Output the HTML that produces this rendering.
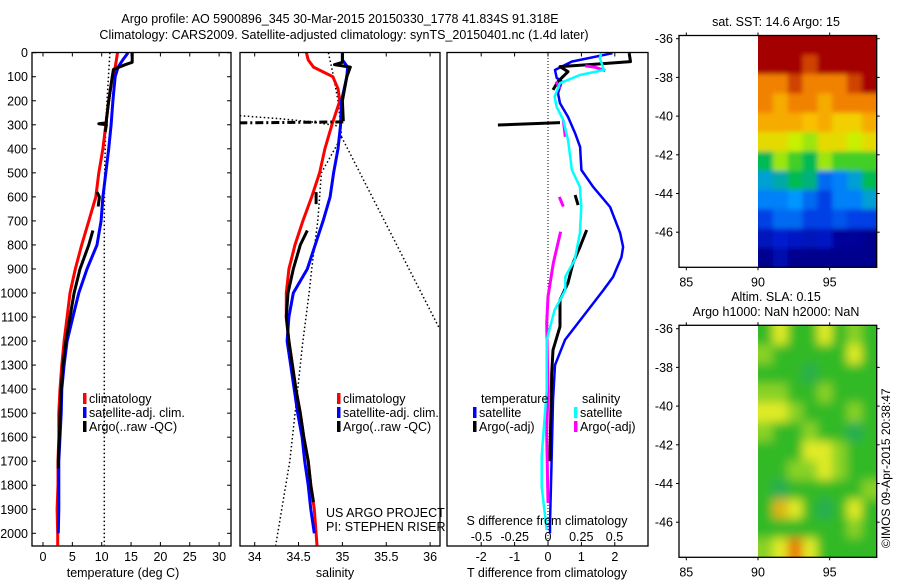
<!DOCTYPE html>
<html><head><meta charset="utf-8"><style>
html,body{margin:0;padding:0;background:#fff;}
svg{display:block;font-family:"Liberation Sans",sans-serif;}
text{fill:#000;font-size:12.5px;}
</style></head><body>
<svg id="c" xmlns="http://www.w3.org/2000/svg" width="900" height="580" viewBox="0 0 900 580">
<defs>
<clipPath id="cp1"><rect x="32" y="52" width="199" height="494"/></clipPath>
<clipPath id="cp2"><rect x="240" y="52" width="200" height="494"/></clipPath>
<clipPath id="cp3"><rect x="447" y="52" width="201" height="494"/></clipPath>
<clipPath id="cpm1"><rect x="758" y="35.5" width="118.7" height="231.8"/></clipPath>
<clipPath id="cpm2"><rect x="758" y="325.3" width="118.7" height="232"/></clipPath>
<filter id="blur" x="-5%" y="-5%" width="110%" height="110%"><feGaussianBlur stdDeviation="5"/></filter>
<filter id="blur2"><feGaussianBlur stdDeviation="2.5"/></filter>
</defs>
<text x="340" y="23" text-anchor="middle">Argo profile: AO 5900896_345 30-Mar-2015 20150330_1778 41.834S 91.318E</text>
<text x="344" y="39" text-anchor="middle">Climatology: CARS2009. Satellite-adjusted climatology: synTS_20150401.nc (1.4d later)</text>
<g id="g1"></g>
<g id="g2"></g>
<g id="g3"></g>
<g id="gm1"></g>
<g id="gm2"></g>
<text transform="translate(890,548) rotate(-90)" style="font-size:12px">©IMOS 09-Apr-2015 20:38:47</text>
</svg>
<script>
// ---- data ----
const depthTicks = [0,100,200,300,400,500,600,700,800,900,1000,1100,1200,1300,1400,1500,1600,1700,1800,1900,2000];
const tTicks = [0,5,10,15,20,25,30];
const sTicks = [34,34.5,35,35.5,36];
const sTickLabels = ["34","34.5","35","35.5","36"];
const tdTicks = [-2,-1,0,1,2];
const sdTicks = [-0.5,-0.25,0,0.25,0.5];
const sdTickLabels = ["-0.5","-0.25","0","0.25","0.5"];
const climDepth = [0,30,60,100,150,200,300,400,500,600,700,800,900,1000,1100,1200,1300,1400,1500,1600,1700,1800,1900,2000,2050];
const tClim = [12.7,12.5,12.3,11.8,11.5,11.2,10.7,10.2,9.5,9.0,7.8,6.6,5.5,4.6,4.1,3.6,3.2,2.9,2.7,2.7,2.55,2.55,2.4,2.5,2.5];
const tSat = [14.5,13.6,12.8,12.3,12.1,11.9,11.6,11.2,10.7,10.2,9.9,9.2,7.5,6.1,5.1,4.1,3.6,3.2,3.1,2.9,2.7,2.7,2.7,2.6,null];
const sClim = [34.59,34.61,34.67,34.89,34.95,34.97,34.88,34.80,34.74,34.65,34.55,34.46,34.39,34.36,34.36,34.39,34.43,34.47,34.52,34.56,34.61,34.64,34.68,34.70,34.71];
const sSat = [35.0,35.0,35.06,35.05,35.02,34.99,34.98,34.95,34.90,34.86,34.78,34.69,34.60,34.44,34.39,34.37,34.41,34.45,34.49,34.54,34.57,34.61,34.64,34.68,null];
const argoTDepth = [0,40,50,70,100,200,280,292,296,300,330,400,580,600,640,700,740,800,900,1000,1100,1200,1300,1400,1500,1600,1700,1730];
const argoT = [15.2,15.2,14.0,12.0,11.8,11.2,10.8,10.8,9.5,10.8,10.6,null,9.2,9.6,9.4,null,8.5,7.8,6.3,5.3,4.6,3.9,3.4,3.1,2.9,2.8,2.6,2.6];
const argoSDepth = [0,40,50,60,100,200,285,400,580,630,700,740,800,900,1000,1100,1200,1300,1400,1500,1600,1700,1800,1870];
const argoS = [35.0,35.0,34.91,35.09,35.05,35.0,35.01,null,34.70,34.70,null,34.60,34.52,34.44,34.38,34.36,34.39,34.43,34.47,34.52,34.56,34.61,34.64,34.67];
const argoSSpikeDepth = [288,290,292];
const argoSSpike = [35.01,34.4,33.8];
const tRefDepth = [0,200,300,500,700,2050];
const tRef = [11.4,10.9,10.7,10.5,10.45,10.45];
const sRefDepth = [0,100,200,300,350];
const sRef = [34.84,34.9,34.95,34.98,34.99];
const sRefRightDepth = [350,1150];
const sRefRight = [34.99,36.11];
const sRefLeftDepth = [350,500,700,900,1000,1200,1400,1700,2050];
const sRefLeft = [34.99,34.76,34.72,34.65,34.62,34.55,34.49,34.40,34.24];
const sRefTopDepth = [262,275,290,305];
const sRefTop = [33.83,34.3,34.7,34.95];
const tdSatDepth = [2,37,72,105,120,168,210,267,335,392,488,558,642,750,808,850,933,988,1195,1300,1446,1679,1957,2000];
const tdSat = [1.93,0.71,0.21,0.26,0.41,0.30,0.36,0.60,0.81,0.96,1.0,1.35,1.86,2.16,2.25,2.2,1.95,1.66,0.51,0.21,0.15,0.11,0.06,0.06];
const sdSatDepth = [2,23,72,93,127,183,225,280,363,488,558,641,752,863,932,988,1071,1195,1403,1680,1806,1986];
const sdSat = [0.40,0.39,0.42,0.24,0.09,0.05,0.065,0.115,0.15,0.18,0.24,0.25,0.24,0.2,0.13,0.13,0.05,-0.01,-0.01,-0.047,-0.047,-0.01];
const tdArgoDepth = [2,37,47,58,79,120,155,200,291,301,400,592,634,700,738,807,875,958,1029,1140,1237,1333,1679,1700];
const tdArgo = [2.43,2.47,1.5,0.36,0.6,0.3,0.15,null,0.36,-1.5,null,0.81,0.9,null,1.16,0.96,0.75,0.6,0.36,0.36,0.15,0.11,0.06,0.06];
const sdArgoDepth = [55,60,75,100,120,150,250,280,350,400,600,640,700,745,876,1015,1126,1403,1583,1874];
const sdArgo = [0.28,0.35,0.43,null,0.06,0.09,null,0.115,0.13,null,0.085,0.115,null,0.095,0.04,0.0,-0.01,0.0,-0.01,0.0];
const sstGrid = [
[6,6,6,6,6,6,6,6],[6,6,6,5.5,6,6,6,6],[5,5,5.5,5,5,5,5.5,6],[5,4.6,5,5,4.6,5,5,5],
[4.6,4.6,4.6,4.4,4.6,4.2,4.2,4.6],[4,4,3.6,3.4,4,4,3.6,4],[2.6,3.4,3,2.6,3.4,3,3,3],
[2,2.2,2.6,2.4,1.4,1.6,2,2.6],[1.6,1.6,1.8,1.4,1,1.6,1.6,2],[1,1.4,1.4,1,1,1.2,1,1],
[0.4,0.6,0.5,0.4,0.5,0.1,0.1,0],[0,0.3,0,0,0,0,0,0]];
const slaGrid = [
[1,2,1,1,2,1,1.5,1],[1.5,1,1,1,1,1,2,1],[1,1,1,0.6,1,1,1,1],[1.5,1.5,1,1,1.5,1,1,1],
[2,2,1.5,1,1,1,1.5,1],[1.5,1,1,1.5,1,1,0.5,1],[1,1,1,2,2,1.5,1,1],[1,1,1.5,1.5,2,1.5,1,1],
[1,0.5,1,1,1,1,1,1.5],[1,2.5,2,1,0.5,1,2,1],[1,1,1,1,1,1,1.5,1],[1.5,2,3,2,1,1,1,1]];
const lonTicks = [85,90,95];
const latTicks = [-36,-38,-40,-42,-44,-46];

// ---- axes ----
const yD = d => 52.7 + d*0.2403;
const xT = t => 43 + t*5.87;
const xS = s => 254.7 + (s-34)*87.7;
const xTd = t => 548 + t*33.4;
const xSd = s => 548 + s*133;
const xLon = l => 758 + (l-90)*14.34;
const yLat1 = l => 38.7 + (-36-l)*19.35;
const yLat2 = l => 328.7 + (-36-l)*19.35;

const NS="http://www.w3.org/2000/svg";
function mk(tag, parent, attrs){const e=document.createElementNS(NS,tag);for(const k in attrs)e.setAttribute(k,attrs[k]);parent.appendChild(e);return e;}
function txt(parent,x,y,s,anchor){const e=mk('text',parent,{x:x,y:y,'text-anchor':anchor||'start'});e.textContent=s;return e;}
function series(parent, depths, vals, xf, color, w, dash, name){
  let segs=[],cur=[];
  for(let i=0;i<depths.length;i++){
    if(vals[i]===null||vals[i]===undefined){if(cur.length)segs.push(cur);cur=[];continue;}
    cur.push(xf(vals[i]).toFixed(1)+','+yD(depths[i]).toFixed(1));
  }
  if(cur.length)segs.push(cur);
  segs.forEach(s=>{
    const p=mk('polyline',parent,{points:s.join(' '),fill:'none',stroke:color,'stroke-width':w,'stroke-linejoin':'round'});
    if(dash)p.setAttribute('stroke-dasharray',dash);
    
    
  });
}
function frame(parent,x0,x1,name){
  const r=mk('rect',parent,{x:x0,y:52.5,width:x1-x0,height:546-52.5,fill:'none',stroke:'#000','stroke-width':1.3});
  
  
}
function legendItem(parent,x,y,color,label,name){
  mk('rect',parent,{x:x,y:y-10,width:3.5,height:11,fill:color});
  const t=txt(parent,x+6,y,label);
  
  
}

// ---- panel 1 ----
const g1=document.getElementById('g1');
const c1=mk('g',g1,{'clip-path':'url(#cp1)'});
series(c1,tRefDepth,tRef,xT,'#000',1.5,'1.5 2.5','temperature-reference-dotted');
series(c1,climDepth,tClim,xT,'#f00',3,null,'temperature-climatology-line');
series(c1,climDepth,tSat,xT,'#00f',3,null,'temperature-satellite-line');
series(c1,argoTDepth,argoT,xT,'#000',3,null,'temperature-argo-line');
frame(g1,32,231,'temperature-axes-frame');
depthTicks.forEach(d=>{
  mk('line',g1,{x1:32,x2:36,y1:yD(d),y2:yD(d),stroke:'#000'});
  mk('line',g1,{x1:227,x2:231,y1:yD(d),y2:yD(d),stroke:'#000'});
  const t=txt(g1,28,yD(d)+4.5,String(d),'end');
  
  
});
tTicks.forEach(v=>{
  mk('line',g1,{x1:xT(v),x2:xT(v),y1:52.5,y2:56.5,stroke:'#000'});
  mk('line',g1,{x1:xT(v),x2:xT(v),y1:542,y2:546,stroke:'#000'});
  const t=txt(g1,xT(v),561,String(v),'middle');
  
  
});
txt(g1,123,577,'temperature (deg C)','middle');
legendItem(g1,83,403,'#f00','climatology','legend-climatology');
legendItem(g1,83,417,'#00f','satellite-adj. clim.','legend-satellite-adj');
legendItem(g1,83,431,'#000','Argo(..raw -QC)','legend-argo');

// ---- panel 2 ----
const g2=document.getElementById('g2');
const c2=mk('g',g2,{'clip-path':'url(#cp2)'});
series(c2,sRefDepth,sRef,xS,'#000',1.5,'1.5 2.5','salinity-reference-dotted');
series(c2,sRefRightDepth,sRefRight,xS,'#000',1.5,'1.5 2.5','salinity-reference-right-dotted');
series(c2,sRefLeftDepth,sRefLeft,xS,'#000',1.5,'1.5 2.5','salinity-reference-left-dotted');
series(c2,sRefTopDepth,sRefTop,xS,'#000',1.5,'1.5 2.5','salinity-reference-top-dotted');
series(c2,climDepth,sClim,xS,'#f00',3,null,'salinity-climatology-line');
series(c2,climDepth,sSat,xS,'#00f',3,null,'salinity-satellite-line');
series(c2,argoSDepth,argoS,xS,'#000',3,null,'salinity-argo-line');
series(c2,argoSSpikeDepth,argoSSpike,xS,'#000',3,'8 3 2 3','salinity-argo-spike');
frame(g2,240,440,'salinity-axes-frame');
sTicks.forEach((v,i)=>{
  mk('line',g2,{x1:xS(v),x2:xS(v),y1:52.5,y2:56.5,stroke:'#000'});
  mk('line',g2,{x1:xS(v),x2:xS(v),y1:542,y2:546,stroke:'#000'});
  const t=txt(g2,xS(v),561,sTickLabels[i],'middle');
  
  
});
txt(g2,335,577,'salinity','middle');
legendItem(g2,337,403,'#f00','climatology','legend-climatology');
legendItem(g2,337,417,'#00f','satellite-adj. clim.','legend-satellite-adj');
legendItem(g2,337,431,'#000','Argo(..raw -QC)','legend-argo');
txt(g2,326,517,'US ARGO PROJECT');
txt(g2,326,531,'PI: STEPHEN RISER');

// ---- panel 3 ----
const g3=document.getElementById('g3');
const c3=mk('g',g3,{'clip-path':'url(#cp3)'});
mk('line',c3,{x1:xTd(0),x2:xTd(0),y1:52,y2:546,stroke:'#000','stroke-width':1,'stroke-dasharray':'1 2'});
series(c3,tdSatDepth,tdSat,xTd,'#00f',2.5,null,'t-diff-satellite-line');
series(c3,tdArgoDepth,tdArgo,xTd,'#000',3,null,'t-diff-argo-line');
series(c3,sdArgoDepth,sdArgo,xSd,'#f0f',3,null,'s-diff-argo-line');
series(c3,sdSatDepth,sdSat,xSd,'#0ff',2.5,null,'s-diff-satellite-line');
frame(g3,447,648,'difference-axes-frame');
tdTicks.forEach(v=>{
  mk('line',g3,{x1:xTd(v),x2:xTd(v),y1:52.5,y2:56.5,stroke:'#000'});
  mk('line',g3,{x1:xTd(v),x2:xTd(v),y1:542,y2:546,stroke:'#000'});
  const t=txt(g3,xTd(v),561,String(v),'middle');
  
  
});
sdTicks.forEach((v,i)=>{
  const t=txt(g3,xSd(v),541,sdTickLabels[i],'middle');
  
  
});
txt(g3,547,525,'S difference from climatology','middle');
txt(g3,547,577,'T difference from climatology','middle');
txt(g3,481,403,'temperature');
txt(g3,582,403,'salinity');
legendItem(g3,473,417,'#00f','satellite','legend-t-satellite');
legendItem(g3,473,431,'#000','Argo(-adj)','legend-t-argo');
legendItem(g3,574,417,'#0ff','satellite','legend-s-satellite');
legendItem(g3,574,431,'#f0f','Argo(-adj)','legend-s-argo');

// ---- maps ----
function jet(v){ // v in 0..1
  const stops=[[0,[0,0,143]],[0.12,[0,32,220]],[0.3,[0,150,255]],[0.45,[0,190,60]],[0.6,[200,240,0]],[0.72,[250,200,0]],[0.85,[240,120,0]],[1,[165,0,0]]];
  for(let i=1;i<stops.length;i++){if(v<=stops[i][0]){const a=stops[i-1],b=stops[i],f=(v-a[0])/(b[0]-a[0]);return 'rgb('+a[1].map((c,k)=>Math.round(c+(b[1][k]-c)*f)).join(',')+')';}}
  return 'rgb(165,0,0)';
}
function slaCol(v){
  const stops=[[0,[30,160,130]],[1,[50,185,40]],[2,[225,235,40]],[3,[230,120,0]]];
  for(let i=1;i<stops.length;i++){if(v<=stops[i][0]){const a=stops[i-1],b=stops[i],f=(v-a[0])/(b[0]-a[0]);return 'rgb('+a[1].map((c,k)=>Math.round(c+(b[1][k]-c)*f)).join(',')+')';}}
  return 'rgb(230,120,0)';
}
function drawMap(g,grid,colf,top,bottom,clip,filt,yLat,name){
  const cg=mk('g',g,{'clip-path':'url(#'+clip+')'});
  const inner=mk('g',cg,{filter:'url(#'+filt+')'});
  const rows=grid.length,cols=grid[0].length,x0=xLon(90),x1=876.7,cw=(x1-x0)/cols,rh=(bottom-top)/rows;
  mk('rect',inner,{x:x0-10,y:top-10,width:x1-x0+20,height:bottom-top+20,fill:colf(grid[rows-1][0])});
  for(let r=0;r<rows;r++)for(let c=0;c<cols;c++){
    const e=mk('rect',inner,{x:(x0+c*cw-(c==0?10:0)).toFixed(1),y:(top+r*rh-(r==0?10:0)).toFixed(1),width:(cw+0.6+(c==0||c==cols-1?10:0)).toFixed(1),height:(rh+0.6+(r==0||r==rows-1?10:0)).toFixed(1),fill:colf(grid[r][c])});
    
    
  }
  const fr=mk('rect',g,{x:679,y:top,width:876.7-679,height:bottom-top,fill:'none',stroke:'#000','stroke-width':1.3});
  
  
  lonTicks.forEach(l=>{
    mk('line',g,{x1:xLon(l),x2:xLon(l),y1:top,y2:top-3,stroke:'#000'});
    mk('line',g,{x1:xLon(l),x2:xLon(l),y1:bottom,y2:bottom+3,stroke:'#000'});
    const t=txt(g,xLon(l),bottom+19,String(l),'middle');
    
    
  });
  latTicks.forEach(l=>{
    mk('line',g,{x1:676,x2:679,y1:yLat(l),y2:yLat(l),stroke:'#000'});
    mk('line',g,{x1:876.7,x2:879.7,y1:yLat(l),y2:yLat(l),stroke:'#000'});
    const t=txt(g,673,yLat(l)+4.5,String(l),'end');
    
    
  });
}
const gm1=document.getElementById('gm1'),gm2=document.getElementById('gm2');
drawMap(gm1,sstGrid,v=>jet(v/6),35.5,267.3,'cpm1','blur2',yLat1,'sst-map');
drawMap(gm2,slaGrid,slaCol,325.3,557.3,'cpm2','blur',yLat2,'sla-map');
txt(gm1,776,26,'sat. SST: 14.6 Argo: 15','middle');
txt(gm2,776,301,'Altim. SLA: 0.15','middle');
txt(gm2,776,316,'Argo h1000: NaN h2000: NaN','middle');
</script>
</body></html>
